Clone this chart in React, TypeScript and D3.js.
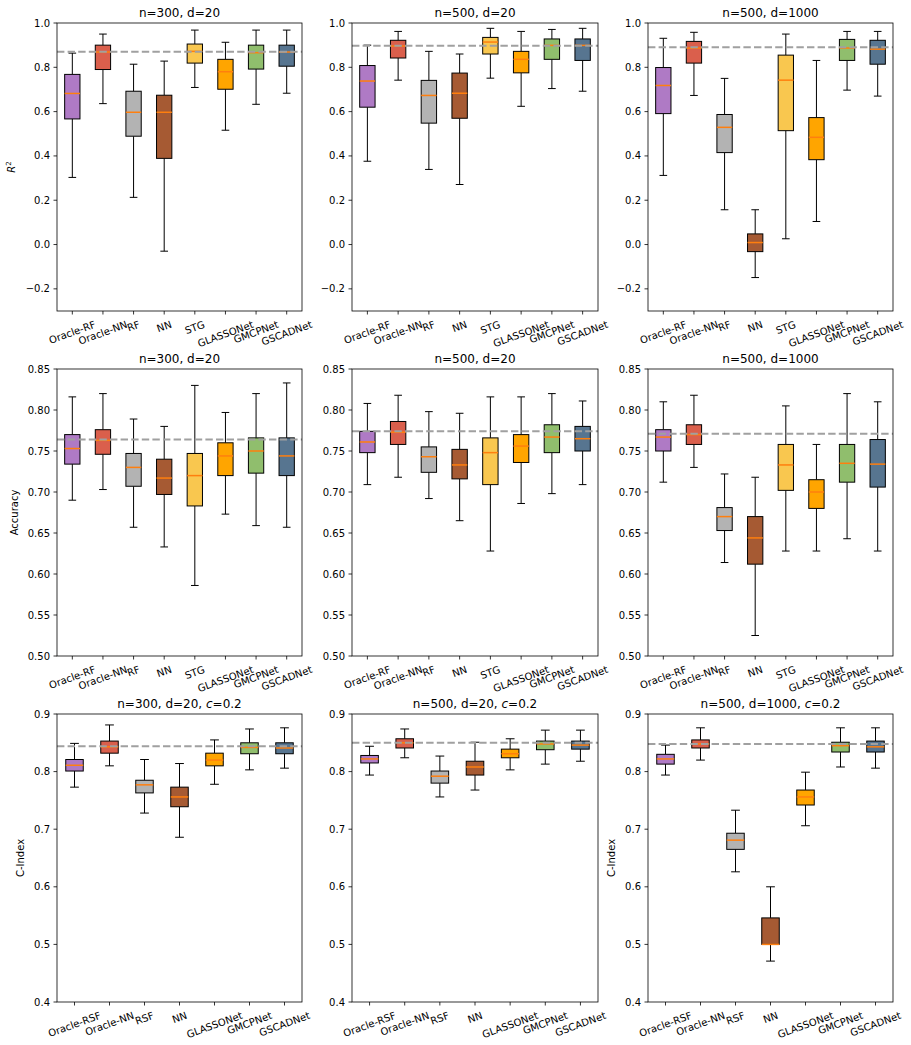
import React from "react";
import * as d3 from "d3";

// ---------- categories ----------
const regCats = ["Oracle-RF", "Oracle-NN", "RF", "NN", "STG", "GLASSONet", "GMCPNet", "GSCADNet"];
const survCats = ["Oracle-RSF", "Oracle-NN", "RSF", "NN", "GLASSONet", "GMCPNet", "GSCADNet"];

// ---------- box stats: [whiskerLow, q1, median, q3, whiskerHigh] ----------
const r2_n300_d20 = [
  [0.303, 0.567, 0.682, 0.768, 0.864],
  [0.636, 0.790, 0.869, 0.900, 0.950],
  [0.213, 0.489, 0.597, 0.692, 0.814],
  [-0.030, 0.389, 0.597, 0.674, 0.828],
  [0.709, 0.819, 0.872, 0.905, 0.968],
  [0.516, 0.701, 0.780, 0.836, 0.913],
  [0.633, 0.792, 0.866, 0.900, 0.968],
  [0.683, 0.805, 0.869, 0.900, 0.968],
];
const r2_n500_d20 = [
  [0.376, 0.620, 0.738, 0.808, 0.900],
  [0.742, 0.842, 0.896, 0.922, 0.962],
  [0.339, 0.548, 0.673, 0.741, 0.872],
  [0.271, 0.570, 0.683, 0.774, 0.860],
  [0.751, 0.860, 0.914, 0.935, 0.976],
  [0.624, 0.775, 0.836, 0.872, 0.962],
  [0.704, 0.836, 0.899, 0.928, 0.971],
  [0.692, 0.831, 0.899, 0.928, 0.976],
];
const r2_n500_d1000 = [
  [0.312, 0.591, 0.718, 0.799, 0.931],
  [0.673, 0.819, 0.887, 0.917, 0.958],
  [0.157, 0.415, 0.529, 0.587, 0.750],
  [-0.149, -0.032, 0.009, 0.048, 0.157],
  [0.026, 0.514, 0.742, 0.855, 0.950],
  [0.104, 0.383, 0.484, 0.573, 0.831],
  [0.697, 0.831, 0.887, 0.926, 0.962],
  [0.670, 0.814, 0.882, 0.922, 0.962],
];
const acc_n300_d20 = [
  [0.690, 0.734, 0.753, 0.770, 0.816],
  [0.703, 0.746, 0.763, 0.776, 0.820],
  [0.657, 0.707, 0.730, 0.747, 0.789],
  [0.633, 0.697, 0.717, 0.740, 0.780],
  [0.586, 0.683, 0.720, 0.747, 0.830],
  [0.673, 0.720, 0.744, 0.760, 0.797],
  [0.659, 0.723, 0.750, 0.766, 0.820],
  [0.657, 0.720, 0.744, 0.766, 0.833],
];
const acc_n500_d20 = [
  [0.709, 0.748, 0.761, 0.774, 0.808],
  [0.718, 0.758, 0.773, 0.786, 0.818],
  [0.692, 0.724, 0.743, 0.755, 0.798],
  [0.665, 0.716, 0.733, 0.752, 0.796],
  [0.628, 0.709, 0.748, 0.766, 0.816],
  [0.686, 0.736, 0.756, 0.770, 0.816],
  [0.698, 0.748, 0.767, 0.782, 0.820],
  [0.709, 0.750, 0.765, 0.780, 0.811],
];
const acc_n500_d1000 = [
  [0.712, 0.750, 0.767, 0.776, 0.810],
  [0.730, 0.758, 0.770, 0.782, 0.818],
  [0.614, 0.653, 0.670, 0.681, 0.722],
  [0.525, 0.612, 0.644, 0.670, 0.718],
  [0.628, 0.702, 0.733, 0.758, 0.805],
  [0.628, 0.680, 0.700, 0.715, 0.758],
  [0.643, 0.712, 0.735, 0.758, 0.820],
  [0.628, 0.706, 0.734, 0.764, 0.810],
];
const ci_n300_d20 = [
  [0.773, 0.801, 0.811, 0.821, 0.849],
  [0.810, 0.832, 0.843, 0.853, 0.881],
  [0.728, 0.763, 0.777, 0.785, 0.821],
  [0.686, 0.739, 0.756, 0.773, 0.814],
  [0.778, 0.810, 0.820, 0.832, 0.855],
  [0.803, 0.831, 0.842, 0.850, 0.874],
  [0.806, 0.831, 0.841, 0.850, 0.876],
];
const ci_n500_d20 = [
  [0.794, 0.815, 0.822, 0.828, 0.844],
  [0.824, 0.841, 0.850, 0.857, 0.874],
  [0.756, 0.780, 0.792, 0.801, 0.827],
  [0.768, 0.794, 0.808, 0.818, 0.851],
  [0.803, 0.824, 0.831, 0.839, 0.857],
  [0.813, 0.838, 0.848, 0.853, 0.872],
  [0.818, 0.839, 0.846, 0.853, 0.872],
];
const ci_n500_d1000 = [
  [0.794, 0.813, 0.822, 0.830, 0.846],
  [0.820, 0.841, 0.848, 0.855, 0.876],
  [0.626, 0.665, 0.681, 0.693, 0.733],
  [0.471, 0.500, 0.500, 0.546, 0.600],
  [0.706, 0.742, 0.756, 0.768, 0.799],
  [0.808, 0.834, 0.845, 0.851, 0.876],
  [0.806, 0.834, 0.843, 0.853, 0.876],
];

// reference (dashed) levels
const r2Refs = [0.870, 0.897, 0.890];
const accRefs = [0.764, 0.774, 0.771];
const ciRefs = [0.844, 0.850, 0.848];

// tick values
const r2Ticks = [-0.2, 0.0, 0.2, 0.4, 0.6, 0.8, 1.0];
const accTicks = [0.5, 0.55, 0.6, 0.65, 0.7, 0.75, 0.8, 0.85];
const ciTicks = [0.4, 0.5, 0.6, 0.7, 0.8, 0.9];

const colorOf: Record<string, string> = {
  "Oracle-RF": "#AF7AC5",
  "Oracle-RSF": "#AF7AC5",
  "Oracle-NN": "#DA5F4C",
  RF: "#B3B3B3",
  RSF: "#B3B3B3",
  NN: "#A65A33",
  STG: "#F9C74F",
  GLASSONet: "#FFA500",
  GMCPNet: "#90BE6D",
  GSCADNet: "#577590",
};

const W = 911;
const H = 1045;
const colX = [
  [57, 302],
  [352, 598],
  [648, 893],
];
const rowY = [
  [23, 311],
  [369, 656],
  [714, 1002],
];

const FONT = '"DejaVu Sans", sans-serif';

let _ctx: CanvasRenderingContext2D | null = null;
function textW(s: string, size = 10) {
  if (typeof document === "undefined") return s.length * size * 0.6;
  if (!_ctx) _ctx = document.createElement("canvas").getContext("2d");
  if (!_ctx) return s.length * size * 0.6;
  _ctx.font = `${size}px "DejaVu Sans"`;
  return _ctx.measureText(s).width;
}

type Panel = {
  row: number;
  col: number;
  title: string;
  cens: boolean;
  cats: string[];
  data: number[][];
  ref: number;
  domain: [number, number];
  ticks: number[];
  fmt: (v: number) => string;
  ylabel: string | null;
};

const f1 = (v: number) => d3.format(".1f")(v).replace("-", "\u2212");
const f2 = (v: number) => d3.format(".2f")(v);

const panels: Panel[] = [
  { row: 0, col: 0, title: "n=300, d=20", cens: false, cats: regCats, data: r2_n300_d20, ref: r2Refs[0], domain: [-0.3, 1.0], ticks: r2Ticks, fmt: f1, ylabel: "R2" },
  { row: 0, col: 1, title: "n=500, d=20", cens: false, cats: regCats, data: r2_n500_d20, ref: r2Refs[1], domain: [-0.3, 1.0], ticks: r2Ticks, fmt: f1, ylabel: null },
  { row: 0, col: 2, title: "n=500, d=1000", cens: false, cats: regCats, data: r2_n500_d1000, ref: r2Refs[2], domain: [-0.3, 1.0], ticks: r2Ticks, fmt: f1, ylabel: null },
  { row: 1, col: 0, title: "n=300, d=20", cens: false, cats: regCats, data: acc_n300_d20, ref: accRefs[0], domain: [0.5, 0.85], ticks: accTicks, fmt: f2, ylabel: "Accuracy" },
  { row: 1, col: 1, title: "n=500, d=20", cens: false, cats: regCats, data: acc_n500_d20, ref: accRefs[1], domain: [0.5, 0.85], ticks: accTicks, fmt: f2, ylabel: null },
  { row: 1, col: 2, title: "n=500, d=1000", cens: false, cats: regCats, data: acc_n500_d1000, ref: accRefs[2], domain: [0.5, 0.85], ticks: accTicks, fmt: f2, ylabel: null },
  { row: 2, col: 0, title: "n=300, d=20, ", cens: true, cats: survCats, data: ci_n300_d20, ref: ciRefs[0], domain: [0.4, 0.9], ticks: ciTicks, fmt: f1, ylabel: "C-Index" },
  { row: 2, col: 1, title: "n=500, d=20, ", cens: true, cats: survCats, data: ci_n500_d20, ref: ciRefs[1], domain: [0.4, 0.9], ticks: ciTicks, fmt: f1, ylabel: null },
  { row: 2, col: 2, title: "n=500, d=1000, ", cens: true, cats: survCats, data: ci_n500_d1000, ref: ciRefs[2], domain: [0.4, 0.9], ticks: ciTicks, fmt: f1, ylabel: "C-Index" },
];

const ROT = 20;

function PanelView({ p }: { p: Panel }) {
  const [x0, x1] = colX[p.col];
  const [y0, y1] = rowY[p.row];
  const n = p.cats.length;
  const x = d3.scaleLinear().domain([0.5, n + 0.5]).range([x0, x1]);
  const y = d3.scaleLinear().domain(p.domain).range([y1, y0]);
  const unit = x(1) - x(0);
  const bw = 0.5 * unit;
  const cw = 0.25 * unit;
  const maxTickW = d3.max(p.ticks.map((t) => textW(p.fmt(t)))) || 20;
  const ylx = x0 - (7 + maxTickW + 4 + 6);
  const yc = (y0 + y1) / 2;
  const rad = (ROT * Math.PI) / 180;

  return (
    <g>
      {p.data.map((s, i) => {
        const cx = x(i + 1);
        const [lo, q1, med, q3, hi] = s;
        return (
          <g key={i}>
            <line x1={cx} x2={cx} y1={y(q1)} y2={y(lo)} stroke="#000" strokeWidth={1} />
            <line x1={cx} x2={cx} y1={y(q3)} y2={y(hi)} stroke="#000" strokeWidth={1} />
            <line x1={cx - cw / 2} x2={cx + cw / 2} y1={y(lo)} y2={y(lo)} stroke="#000" strokeWidth={1} />
            <line x1={cx - cw / 2} x2={cx + cw / 2} y1={y(hi)} y2={y(hi)} stroke="#000" strokeWidth={1} />
            <rect
              x={cx - bw / 2}
              y={y(q3)}
              width={bw}
              height={Math.max(0.5, y(q1) - y(q3))}
              fill={colorOf[p.cats[i]]}
              stroke="#000"
              strokeWidth={1}
            />
            <line x1={cx - bw / 2} x2={cx + bw / 2} y1={y(med)} y2={y(med)} stroke="#FF7F0E" strokeWidth={1.5} />
          </g>
        );
      })}
      <line x1={x0} x2={x1} y1={y(p.ref)} y2={y(p.ref)} stroke="#a0a0a0" strokeWidth={2} strokeDasharray="7.4 3.2" />
      <rect x={x0} y={y0} width={x1 - x0} height={y1 - y0} fill="none" stroke="#000" strokeWidth={0.8} />
      {p.ticks.map((t) => (
        <g key={t}>
          <line x1={x0 - 3.5} x2={x0} y1={y(t)} y2={y(t)} stroke="#000" strokeWidth={0.8} />
          <text x={x0 - 7} y={y(t)} dy="0.35em" textAnchor="end" fontSize={10} fontFamily={FONT} fill="#000">
            {p.fmt(t)}
          </text>
        </g>
      ))}
      {p.cats.map((c, i) => {
        const cx = x(i + 1);
        const w = textW(c);
        const hh = w * Math.sin(rad) + 11.6 * Math.cos(rad);
        const ty = y1 + 7.5 + hh / 2;
        return (
          <g key={c}>
            <line x1={cx} x2={cx} y1={y1} y2={y1 + 3.5} stroke="#000" strokeWidth={0.8} />
            <text
              x={cx}
              y={ty}
              dy="0.35em"
              textAnchor="middle"
              fontSize={10}
              fontFamily={FONT}
              fill="#000"
              transform={`rotate(${-ROT}, ${cx}, ${ty})`}
            >
              {c}
            </text>
          </g>
        );
      })}
      <text x={(x0 + x1) / 2} y={y0 - 6} textAnchor="middle" fontSize={12} fontFamily={FONT} fill="#000">
        {p.title}
        {p.cens ? (
          <>
            <tspan fontStyle="italic">c</tspan>
            <tspan>=0.2</tspan>
          </>
        ) : null}
      </text>
      {p.ylabel === "R2" ? (
        <text x={ylx - 1} y={yc} textAnchor="middle" fontSize={10} fontFamily={FONT} fill="#000" transform={`rotate(-90, ${ylx - 1}, ${yc})`}>
          <tspan fontStyle="italic">R</tspan>
          <tspan fontSize={7} dy={-4}>2</tspan>
        </text>
      ) : p.ylabel ? (
        <text x={ylx} y={yc} textAnchor="middle" fontSize={10} fontFamily={FONT} fill="#000" transform={`rotate(-90, ${ylx}, ${yc})`}>
          {p.ylabel}
        </text>
      ) : null}
    </g>
  );
}

export default function App() {
  return (
    <svg
      width={W}
      height={H}
      viewBox={`0 0 ${W} ${H}`}
      style={{ position: "absolute", left: 0, top: 0, background: "#fff" }}
    >
      <rect x={0} y={0} width={W} height={H} fill="#fff" />
      {panels.map((p, i) => (
        <PanelView key={i} p={p} />
      ))}
    </svg>
  );
}
